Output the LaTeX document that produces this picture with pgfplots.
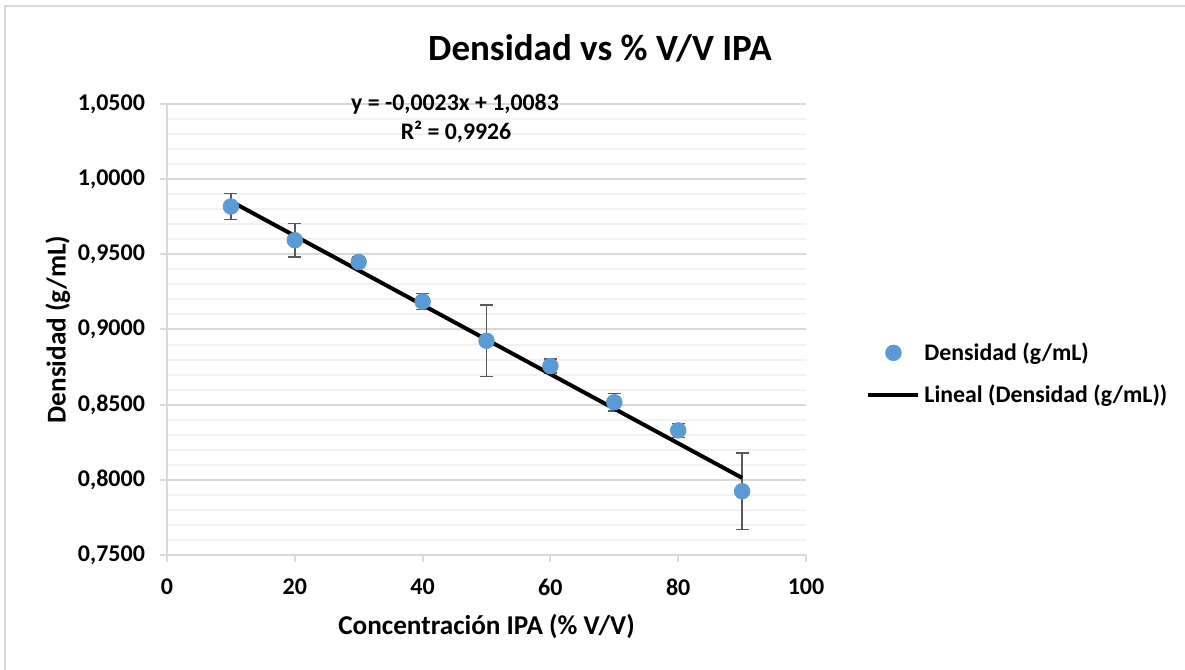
\documentclass[border=0pt]{standalone}
\usepackage{fontspec}
\setmainfont{Carlito}
\usepackage{pgfplots}
\pgfplotsset{compat=1.18}
\definecolor{excelblue}{HTML}{5B9BD5}
\definecolor{majgrid}{HTML}{D9D9D9}
\definecolor{mingrid}{HTML}{F2F2F2}
\definecolor{errgray}{HTML}{595959}
\begin{document}
\begin{tikzpicture}[x=1pt,y=1pt]
\path[use as bounding box] (0,0) rectangle (592.5,335);
\draw[majgrid, line width=1pt] (2.5,0) -- (2.5,332) -- (592.5,332);
\begin{axis}[
  at={(83.5pt,57.5pt)}, anchor=south west,
  width=319.5pt, height=225.5pt, scale only axis,
  xmin=0, xmax=100, ymin=0.75, ymax=1.05,
  xtick={0,20,...,100},
  ytick={0.75,0.8,...,1.06},
  minor y tick num=4,
  axis x line=bottom, axis y line=left,
  axis line style={-, majgrid, line width=1pt},
  ymajorgrids, yminorgrids,
  major grid style={majgrid, line width=1pt},
  minor grid style={mingrid, line width=1pt},
  tick align=outside,
  major tick length=3.5pt, minor tick length=0pt,
  tick style={majgrid, line width=1pt},
  /pgf/number format/assume math mode=true,
  yticklabel style={/pgf/number format/.cd, fixed, fixed zerofill, precision=4, use comma, /tikz/.cd, xshift=-4pt},
  xticklabel style={/pgf/number format/.cd, fixed, /tikz/.cd, yshift=-5pt},
  ticklabel style={font=\bfseries\fontsize{12}{14}\selectfont, text=black},
  xlabel={Concentración IPA (\% V/V)},
  ylabel={Densidad (g/mL)},
  label style={font=\bfseries\fontsize{13.6}{16}\selectfont},
  xlabel style={yshift=-2.5pt},
  ylabel style={yshift=-3pt},
  legend style={at={(axis description cs:1.094,0.401)}, anchor=west, draw=none, fill=none,
    font=\bfseries\fontsize{11.9}{14}\selectfont, row sep=7pt, inner sep=0pt},
  legend cell align=left,
  legend image code/.code={\draw[mark repeat=2,mark phase=2] plot coordinates {(0pt,0pt)(12.5pt,0pt)(25pt,0pt)};},
  clip=false,
]
\addplot[only marks, mark=*, mark size=3.9pt, color=excelblue,
  error bars/.cd, y dir=both, y explicit,
  error bar style={errgray, line width=0.75pt},
  error mark options={rotate=90, mark size=3.25pt, errgray, line width=0.75pt}]
  table[x=x, y=y, y error=e] {
x y e
10 0.9818 0.0085
20 0.9594 0.0112
30 0.9449 0.0035
40 0.9186 0.0053
50 0.8925 0.0238
60 0.8757 0.0048
70 0.8516 0.0058
80 0.8329 0.0047
90 0.7924 0.0256
};
\addlegendentry{Densidad (g/mL)}
\addplot[black, line width=2pt] coordinates {(10,0.9853) (90,0.8013)};
\addlegendentry{Lineal (Densidad (g/mL))}
\end{axis}
\node[anchor=base, font=\bfseries\fontsize{18.5}{22}\selectfont] at (300,304.6) {Densidad vs \% V/V IPA};
\node[anchor=base, font=\bfseries\fontsize{11.9}{14}\selectfont] at (227.5,279.6) {y = -0,0023x + 1,0083};
\node[anchor=base, font=\bfseries\fontsize{11.9}{14}\selectfont] at (228,265.3) {R² = 0,9926};
\end{tikzpicture}
\end{document}
